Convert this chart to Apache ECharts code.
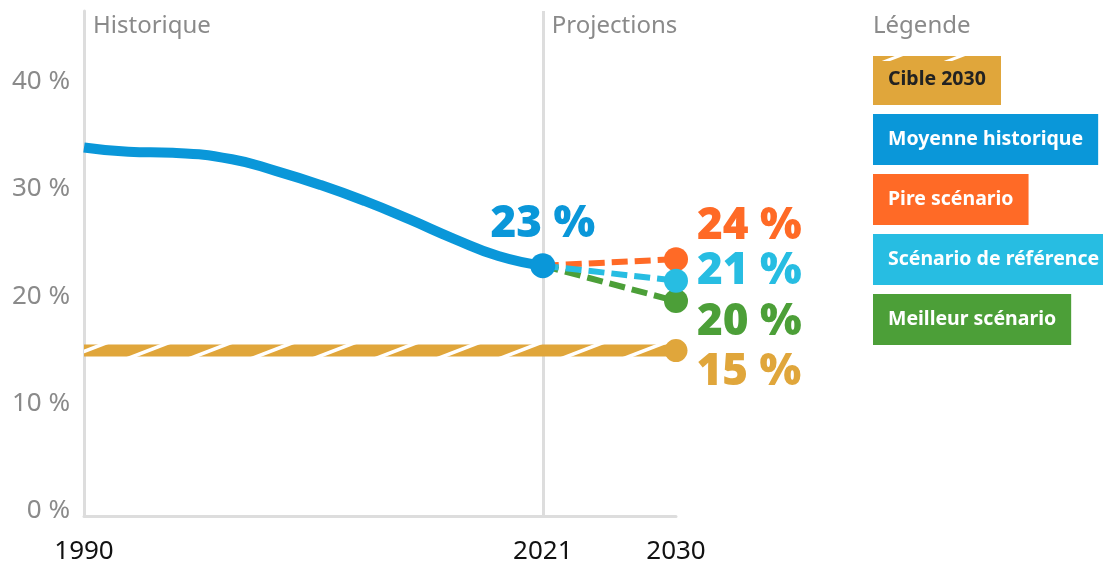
<!DOCTYPE html>
<html>
<head>
<meta charset="utf-8">
<script src="https://cdn.jsdelivr.net/npm/echarts@6/dist/echarts.min.js"></script>
<style>
    html, body { margin: 0; padding: 0; background: #fff; }
    #chart { width: 1103px; height: 565px; }
</style>
</head>
<body>
<div id="chart"></div>
<script>
// Data
// ------------------------------

var histYears  = [1990, 1993, 1996, 2000, 2003, 2006, 2009, 2012, 2015, 2018, 2021];
var histValues = [34.3, 33.9, 33.8, 33.2, 32.1, 30.8, 29.3, 27.6, 25.8, 24.2, 23.3];

var projYears   = [2021, 2030];
var worstValues = [23.3, 23.9];
var refValues   = [23.3, 21.9];
var bestValues  = [23.3, 20.0];

var targetYears  = [1990, 2030];
var targetValues = [15.4, 15.4];

var endLabels = ['23 %', '24 %', '21 %', '20 %', '15 %'];   // hist, worst, ref, best, target

var xTickValues = [1990, 2021, 2030];
var yTickValues = [0, 10, 20, 30, 40];
var periodStarts = [1990, 2021];
var periodNames  = ['Historique', 'Projections'];


// Colors / fonts
var BLUE = '#0A97D9', ORANGE = '#FF6A26', CYAN = '#27BDE2', GREEN = '#4C9F38', GOLD = '#E0A63B';
var FONT = "'Noto Sans', 'Open Sans', sans-serif";


// Hatch pattern for the target line
var makeLineHatch = function() {
    var c = document.createElement('canvas');
    c.width = 62; c.height = 24;
    var ctx = c.getContext('2d');
    ctx.fillStyle = GOLD;
    ctx.fillRect(0, 0, 62, 24);
    ctx.strokeStyle = '#fff';
    ctx.lineWidth = 3.5;
    [-62, 0, 62].forEach(function(dx) {
        ctx.beginPath();
        ctx.moveTo(dx, 24);
        ctx.lineTo(dx + 62, 0);
        ctx.stroke();
    });
    return c;
};

// Legend box for "Cible 2030" (gold with hatched top edge)
var makeLegendHatch = function() {
    var c = document.createElement('canvas');
    c.width = 128; c.height = 51;
    var ctx = c.getContext('2d');
    ctx.fillStyle = GOLD;
    ctx.fillRect(0, 0, 128, 51);
    ctx.save();
    ctx.beginPath();
    ctx.rect(0, 0, 128, 7);
    ctx.clip();
    ctx.fillStyle = '#fff';
    ctx.fillRect(0, 0, 128, 2);
    ctx.strokeStyle = '#fff';
    ctx.lineWidth = 3;
    for (var dx = -62; dx < 190; dx += 62) {
        ctx.beginPath();
        ctx.moveTo(dx, 12);
        ctx.lineTo(dx + 31, 0);
        ctx.stroke();
    }
    ctx.restore();
    return c;
};

// Only the last point gets a dot and a value label
var endPointData = function(xs, ys, label, dy) {
    return xs.map(function(x, i) {
        var last = i === xs.length - 1;
        return {
            value: [x, ys[i]],
            symbol: last ? 'circle' : 'none',
            label: last ? { show: true, formatter: label, offset: [0, dy] } : { show: false }
        };
    });
};

var bigLabel = function(color, position, distance) {
    return {
        position: position,
        distance: distance,
        color: color,
        fontFamily: FONT,
        fontSize: 44,
        fontWeight: 900
    };
};

var scenario = function(name, color, values, label, dy) {
    return {
        name: name,
        type: 'line',
        data: endPointData(projYears, values, label, dy),
        symbolSize: 24,
        itemStyle: { color: color },
        lineStyle: { color: color, width: 6, type: [16, 7] },
        label: bigLabel(color, 'right', 9),
        silent: true
    };
};


var chartEl = document.getElementById('chart');
var chart = echarts.init(chartEl);

chart.setOption({
    animation: false,
    textStyle: { fontFamily: FONT },

    title: {
        text: 'Légende',
        left: 873,
        top: 14,
        padding: 0,
        textStyle: { color: '#8A8A8A', fontSize: 24, fontWeight: 'normal', fontFamily: FONT }
    },

    legend: {
        orient: 'vertical',
        left: 868,
        top: 54,
        padding: 0,
        itemGap: 9,
        icon: 'none',
        itemWidth: 0,
        itemHeight: 0,
        selectedMode: false,
        textStyle: {
            fontFamily: FONT,
            fontSize: 19.5,
            fontWeight: 'bold',
            lineHeight: 21,
            padding: [15, 15, 15, 15]
        },
        data: [
            { name: 'Cible 2030', textStyle: { color: '#222', backgroundColor: { image: makeLegendHatch() } } },
            { name: 'Moyenne historique', textStyle: { color: '#fff', backgroundColor: BLUE } },
            { name: 'Pire scénario', textStyle: { color: '#fff', backgroundColor: ORANGE } },
            { name: 'Scénario de référence', textStyle: { color: '#fff', backgroundColor: CYAN } },
            { name: 'Meilleur scénario', textStyle: { color: '#fff', backgroundColor: GREEN } }
        ]
    },

    grid: { left: 84, right: 427, top: 11, bottom: 46 },

    xAxis: {
        type: 'value',
        min: 1990,
        max: 2030,
        axisLine: { lineStyle: { color: '#DDDDDD', width: 3 } },
        axisTick: { show: false },
        splitLine: { show: false },
        axisLabel: {
            customValues: xTickValues,
            formatter: function(v) { return String(v); },
            color: '#111',
            fontSize: 26,
            fontFamily: FONT,
            margin: 23
        }
    },

    yAxis: {
        type: 'value',
        min: 0,
        max: 47,
        axisLine: { show: true, lineStyle: { color: '#DDDDDD', width: 3 } },
        axisTick: { show: false },
        splitLine: { show: false },
        axisLabel: {
            customValues: yTickValues,
            formatter: '{value} %',
            color: '#8A8A8A',
            fontSize: 26,
            fontFamily: FONT,
            margin: 14,
            verticalAlign: 'bottom',
            lineHeight: 10
        }
    },

    series: [
        {
            name: 'Cible 2030',
            type: 'line',
            data: endPointData(targetYears, targetValues, endLabels[4], 22),
            symbolSize: 23,
            itemStyle: { color: GOLD },
            lineStyle: { color: { image: makeLineHatch(), repeat: 'repeat' }, width: 12 },
            label: bigLabel(GOLD, 'right', 9),
            silent: true
        },
        scenario('Pire scénario', ORANGE, worstValues, endLabels[1], -33),
        scenario('Meilleur scénario', GREEN, bestValues, endLabels[3], 21),
        scenario('Scénario de référence', CYAN, refValues, endLabels[2], -9),
        {
            name: 'Moyenne historique',
            type: 'line',
            smooth: true,
            data: endPointData(histYears, histValues, endLabels[0], 0),
            symbolSize: 25,
            itemStyle: { color: BLUE },
            lineStyle: { color: BLUE, width: 10 },
            label: bigLabel(BLUE, 'top', 7),
            silent: true,
            markLine: {
                silent: true,
                symbol: 'none',
                z: 1,
                label: { show: false },
                lineStyle: { color: '#DDDDDD', width: 3, type: 'solid' },
                data: [{ xAxis: periodStarts[1] }]
            }
        }
    ]
});


// Period captions at the top of the two vertical lines
var topY = chart.convertToPixel({ yAxisIndex: 0 }, 47);
chart.setOption({
    graphic: periodNames.map(function(name, i) {
        return {
            type: 'text',
            x: chart.convertToPixel({ xAxisIndex: 0 }, periodStarts[i]) + 9,
            y: topY + 15,
            style: {
                text: name,
                fill: '#8A8A8A',
                font: '24px ' + FONT,
                verticalAlign: 'middle'
            }
        };
    })
});

window.addEventListener('resize', function() {
    chart.resize();
});
</script>
</body>
</html>
